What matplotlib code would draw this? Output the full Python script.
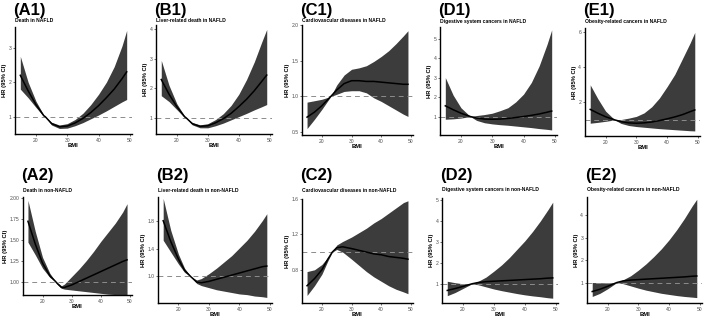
import matplotlib
matplotlib.use("Agg")
import matplotlib.pyplot as plt

plt.rcParams['font.family'] = ['Liberation Sans', 'DejaVu Sans']

W, H = 709, 319

# ---------------- data ----------------
bmi_a1 = [15, 17.5, 20, 22.5, 23, 25, 27.5, 30, 32.5, 35, 37.5, 40, 42.5, 45, 47.5, 49]
hr_a1 = [2.2, 1.75, 1.35, 1.03, 1.0, 0.8, 0.71, 0.73, 0.82, 0.95, 1.12, 1.32, 1.55, 1.8, 2.1, 2.3]
lo_a1 = [1.8, 1.55, 1.27, 1.01, 1.0, 0.76, 0.66, 0.67, 0.74, 0.83, 0.94, 1.05, 1.17, 1.3, 1.43, 1.5]
up_a1 = [2.75, 2.0, 1.45, 1.05, 1.0, 0.84, 0.76, 0.8, 0.92, 1.1, 1.35, 1.65, 2.0, 2.45, 3.05, 3.5]

bmi_b1 = [15, 17.5, 20, 22.5, 23, 25, 27.5, 30, 32.5, 35, 37.5, 40, 42.5, 45, 47.5, 49]
hr_b1 = [2.3, 1.8, 1.38, 1.04, 1.0, 0.8, 0.71, 0.73, 0.83, 0.97, 1.15, 1.38, 1.63, 1.92, 2.25, 2.45]
lo_b1 = [1.75, 1.55, 1.28, 1.01, 1.0, 0.76, 0.66, 0.66, 0.73, 0.82, 0.93, 1.04, 1.15, 1.27, 1.38, 1.45]
up_b1 = [2.95, 2.1, 1.48, 1.06, 1.0, 0.84, 0.76, 0.8, 0.94, 1.14, 1.42, 1.8, 2.3, 2.9, 3.6, 4.0]

bmi_c1 = [15, 17.5, 20, 23, 25, 27.5, 30, 32.5, 35, 37.5, 40, 42.5, 45, 47.5, 49]
hr_c1 = [0.71, 0.78, 0.87, 1.0, 1.09, 1.18, 1.22, 1.22, 1.21, 1.21, 1.2, 1.19, 1.18, 1.17, 1.17]
lo_c1 = [0.55, 0.68, 0.82, 1.0, 1.03, 1.07, 1.08, 1.08, 1.05, 0.98, 0.93, 0.87, 0.81, 0.75, 0.72]
up_c1 = [0.92, 0.94, 0.96, 1.0, 1.16, 1.3, 1.38, 1.4, 1.43, 1.49, 1.56, 1.64, 1.74, 1.85, 1.92]

bmi_d1 = [15, 17.5, 20, 23, 25, 27.5, 30, 32.5, 35, 37.5, 40, 42.5, 45, 47.5, 49]
hr_d1 = [1.55, 1.35, 1.17, 1.0, 0.92, 0.87, 0.86, 0.87, 0.9, 0.95, 1.0, 1.06, 1.13, 1.22, 1.28]
lo_d1 = [0.86, 0.88, 0.92, 1.0, 0.8, 0.68, 0.62, 0.58, 0.55, 0.51, 0.47, 0.43, 0.38, 0.34, 0.31]
up_d1 = [3.0, 2.1, 1.45, 1.0, 1.05, 1.1, 1.17, 1.3, 1.45, 1.75, 2.15, 2.75, 3.6, 4.7, 5.45]

bmi_e1 = [15, 17.5, 20, 23, 25, 27.5, 30, 32.5, 35, 37.5, 40, 42.5, 45, 47.5, 49]
hr_e1 = [1.6, 1.38, 1.18, 1.0, 0.9, 0.83, 0.81, 0.83, 0.88, 0.96, 1.06, 1.17, 1.3, 1.47, 1.57]
lo_e1 = [0.81, 0.86, 0.92, 1.0, 0.8, 0.68, 0.62, 0.58, 0.54, 0.5, 0.47, 0.44, 0.41, 0.38, 0.37]
up_e1 = [3.0, 2.2, 1.5, 1.0, 1.02, 1.1, 1.2, 1.4, 1.75, 2.25, 2.9, 3.6, 4.5, 5.4, 6.0]

bmi_a2 = [15, 17.5, 20, 22.5, 24.5, 25, 26.5, 27.5, 30, 32.5, 35, 37.5, 40, 42.5, 45, 47.5, 49]
hr_a2 = [1.72, 1.45, 1.22, 1.07, 1.0, 0.98, 0.93, 0.93, 0.96, 1.0, 1.04, 1.08, 1.12, 1.16, 1.2, 1.24, 1.26]
lo_a2 = [1.47, 1.32, 1.16, 1.05, 1.0, 0.97, 0.92, 0.91, 0.9, 0.89, 0.88, 0.87, 0.86, 0.85, 0.845, 0.84, 0.835]
up_a2 = [1.97, 1.6, 1.29, 1.1, 1.0, 0.99, 0.95, 0.97, 1.06, 1.15, 1.25, 1.36, 1.48, 1.59, 1.7, 1.83, 1.93]

bmi_b2 = [15, 17.5, 20, 22, 24, 26, 27.5, 30, 32.5, 35, 37.5, 40, 42.5, 45, 47.5, 49]
hr_b2 = [1.8, 1.5, 1.25, 1.09, 1.0, 0.92, 0.91, 0.93, 0.96, 0.99, 1.02, 1.05, 1.08, 1.11, 1.14, 1.15]
lo_b2 = [1.52, 1.35, 1.18, 1.06, 1.0, 0.9, 0.87, 0.84, 0.81, 0.79, 0.77, 0.75, 0.74, 0.72, 0.71, 0.7]
up_b2 = [2.12, 1.66, 1.32, 1.12, 1.0, 0.95, 0.97, 1.04, 1.12, 1.21, 1.3, 1.41, 1.52, 1.65, 1.8, 1.9]

bmi_c2 = [15, 17.5, 20, 22, 23.5, 25, 27, 30, 32.5, 35, 37.5, 40, 42.5, 45, 47.5, 49]
hr_c2 = [0.62, 0.7, 0.8, 0.92, 1.0, 1.05, 1.06, 1.04, 1.02, 1.0, 0.98, 0.97, 0.95, 0.94, 0.93, 0.92]
lo_c2 = [0.51, 0.62, 0.75, 0.9, 1.0, 1.03, 1.0, 0.92, 0.85, 0.78, 0.72, 0.67, 0.62, 0.58, 0.55, 0.53]
up_c2 = [0.78, 0.8, 0.86, 0.94, 1.0, 1.08, 1.12, 1.17, 1.22, 1.27, 1.33, 1.38, 1.44, 1.5, 1.56, 1.58]

bmi_d2 = [15, 17.5, 20, 23, 25, 27.5, 30, 32.5, 35, 37.5, 40, 42.5, 45, 47.5, 49]
hr_d2 = [0.68, 0.77, 0.87, 1.0, 1.06, 1.1, 1.12, 1.14, 1.16, 1.18, 1.2, 1.22, 1.24, 1.27, 1.28]
lo_d2 = [0.43, 0.58, 0.77, 1.0, 0.95, 0.85, 0.75, 0.67, 0.6, 0.53, 0.47, 0.42, 0.38, 0.33, 0.31]
up_d2 = [1.12, 1.05, 1.0, 1.0, 1.12, 1.32, 1.6, 1.9, 2.25, 2.65, 3.05, 3.5, 4.0, 4.55, 4.9]

bmi_e2 = [15, 17.5, 20, 23, 25, 27.5, 30, 32.5, 35, 37.5, 40, 42.5, 45, 47.5, 49]
hr_e2 = [0.6, 0.7, 0.83, 1.0, 1.07, 1.11, 1.13, 1.15, 1.17, 1.19, 1.21, 1.23, 1.25, 1.28, 1.29]
lo_e2 = [0.38, 0.52, 0.72, 1.0, 0.95, 0.85, 0.75, 0.66, 0.59, 0.52, 0.47, 0.42, 0.38, 0.35, 0.33]
up_e2 = [1.0, 0.99, 0.98, 1.0, 1.12, 1.3, 1.55, 1.83, 2.15, 2.5, 2.9, 3.35, 3.85, 4.4, 4.7]

panel_labels = ["(A1)", "(B1)", "(C1)", "(D1)", "(E1)", "(A2)", "(B2)", "(C2)", "(D2)", "(E2)"]
subtitles = ["Death in NAFLD", "Liver-related death in NAFLD", "Cardiovascular diseases in NAFLD",
             "Digestive system cancers in NAFLD", "Obesity-related cancers in NAFLD",
             "Death in non-NAFLD", "Liver-related death in non-NAFLD", "Cardiovascular diseases in non-NAFLD",
             "Digestive system cancers in non-NAFLD", "Obesity-related cancers in non-NAFLD"]
x_ticks = [20, 30, 40, 50]
y_ticks = [[1, 2, 3], [1, 2, 3, 4], [0.5, 1.0, 1.5, 2.0], [1, 2, 3, 4, 5], [2, 4, 6],
           [1.00, 1.25, 1.50, 1.75, 2.00], [1.0, 1.4, 1.8], [0.8, 1.2, 1.6], [1, 2, 3, 4, 5], [1, 2, 3, 4]]
y_fmt = ["{:.0f}", "{:.0f}", "{:.1f}", "{:.0f}", "{:.0f}", "{:.2f}", "{:.1f}", "{:.1f}", "{:.0f}", "{:.0f}"]

series = [(bmi_a1, hr_a1, lo_a1, up_a1), (bmi_b1, hr_b1, lo_b1, up_b1), (bmi_c1, hr_c1, lo_c1, up_c1),
          (bmi_d1, hr_d1, lo_d1, up_d1), (bmi_e1, hr_e1, lo_e1, up_e1), (bmi_a2, hr_a2, lo_a2, up_a2),
          (bmi_b2, hr_b2, lo_b2, up_b2), (bmi_c2, hr_c2, lo_c2, up_c2), (bmi_d2, hr_d2, lo_d2, up_d2),
          (bmi_e2, hr_e2, lo_e2, up_e2)]

# ---------------- layout (pixels: left, right, top, bottom) ----------------
boxes = [(15, 132, 27, 134), (156, 272, 25, 134), (302, 413, 25, 135), (440, 557, 27, 135), (585, 700, 28, 136),
         (23, 132, 197, 295), (158, 272, 197, 303), (302, 413, 199, 303), (442, 558, 198, 303), (587, 702, 197, 303)]
ylims = [(0.5, 3.6), (0.45, 4.15), (0.46, 2.0), (0.05, 5.6), (0.08, 6.25),
         (0.84, 2.01), (0.62, 2.14), (0.425, 1.6), (0.08, 5.1), (0.09, 4.8)]
xlim = (13.3, 50.7)

fig = plt.figure(figsize=(W / 100, H / 100), dpi=100)

for i in range(10):
    L, R, T, B = boxes[i]
    ax = fig.add_axes([L / W, 1 - B / H, (R - L) / W, (B - T) / H])
    bmi, hr, lo, up = series[i]
    ax.fill_between(bmi, lo, up, color='#3c3c3c', lw=0, zorder=1)
    ax.axhline(1, color='#8c8c8c', lw=0.7, ls=(0, (5, 4)), zorder=2)
    ax.plot(bmi, hr, color='black', lw=1.1, zorder=3)
    ax.set_xlim(*xlim)
    ax.set_ylim(*ylims[i])
    ax.set_xticks(x_ticks)
    ax.set_yticks(y_ticks[i])
    ax.set_yticklabels([y_fmt[i].format(v) for v in y_ticks[i]])
    for s in ['top', 'right']:
        ax.spines[s].set_visible(False)
    for s in ['left', 'bottom']:
        ax.spines[s].set_linewidth(1.0)
        ax.spines[s].set_color('black')
    ax.tick_params(axis='both', length=1.5, width=0.5, pad=1.2, labelsize=3.6,
                   labelcolor='#4d4d4d', color='#333333')
    ax.set_xlabel("BMI", fontsize=4.2, fontweight='bold', labelpad=0.5)
    ax.set_ylabel("HR (95% CI)", fontsize=4.2, fontweight='bold', labelpad=0.8)
    row_top = 3 if i < 5 else 168
    sub_y = 21 if i < 5 else 190
    fig.text((L - 2) / W, 1 - row_top / H, panel_labels[i], fontsize=12, fontweight='bold',
             ha='left', va='top')
    fig.text(L / W, 1 - sub_y / H, subtitles[i], fontsize=3.6, fontweight='bold',
             ha='left', va='center')

fig.savefig("out.png", dpi=100)
